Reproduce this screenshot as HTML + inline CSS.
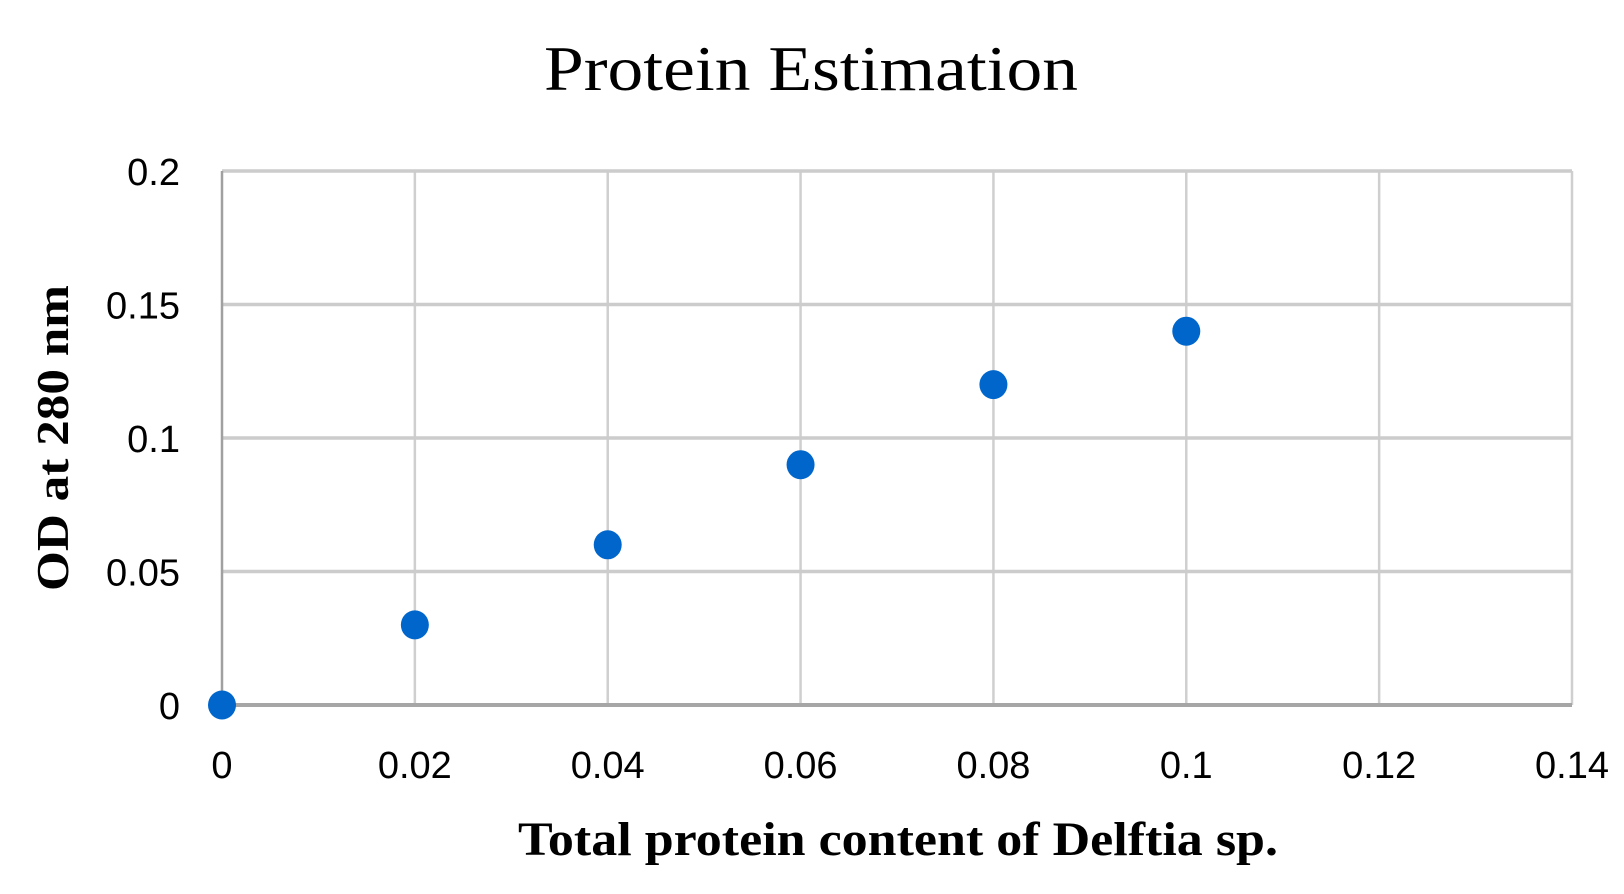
<!DOCTYPE html>
<html><head><meta charset="utf-8"><style>body{margin:0;background:#fff}svg{display:block}</style></head>
<body>
<svg id="chart" width="1624" height="894" viewBox="0 0 1624 894" xmlns="http://www.w3.org/2000/svg">
<rect width="1624" height="894" fill="#fff"/>
<text x="811" y="90" text-anchor="middle" font-family="Liberation Serif, serif" font-size="64" textLength="534" lengthAdjust="spacingAndGlyphs">Protein Estimation</text>
<g id="grid"></g>
<g id="ticks"></g>
<g id="points"></g>
<text x="898" y="855" text-anchor="middle" font-family="Liberation Serif, serif" font-weight="bold" font-size="48" textLength="760" lengthAdjust="spacingAndGlyphs">Total protein content of Delftia sp.</text>
<text transform="translate(68,438) rotate(-90)" text-anchor="middle" font-family="Liberation Serif, serif" font-weight="bold" font-size="46" textLength="306" lengthAdjust="spacingAndGlyphs">OD at 280 nm</text>
</svg>
<script>
const xValues = [0, 0.02, 0.04, 0.06, 0.08, 0.1];
const yValues = [0, 0.03, 0.06, 0.09, 0.12, 0.14];
const xTicks = [0, 0.02, 0.04, 0.06, 0.08, 0.1, 0.12, 0.14];
const yTicks = [0, 0.05, 0.1, 0.15, 0.2];
const xTickLabels = ["0","0.02","0.04","0.06","0.08","0.1","0.12","0.14"];
const yTickLabels = ["0","0.05","0.1","0.15","0.2"];

const L=222,R=1572,T=171,B=705,xMax=0.14,yMax=0.2;
const sx=v=>L+(v/xMax)*(R-L);
const sy=v=>B-(v/yMax)*(B-T);
const NS="http://www.w3.org/2000/svg";
function mk(tag,attrs,parent){const e=document.createElementNS(NS,tag);for(const k in attrs)e.setAttribute(k,attrs[k]);parent.appendChild(e);return e;}
const grid=document.getElementById('grid'),ticks=document.getElementById('ticks'),pts=document.getElementById('points');
xTicks.forEach((v,i)=>{
  if(i>0){const l=mk('line',{x1:sx(v),x2:sx(v),y1:T,y2:B,stroke:'#cfcfcf','stroke-width':2.5},grid);
  
  }
  const t=mk('text',{x:sx(v),y:778,'text-anchor':'middle','font-family':'Liberation Sans, sans-serif','font-size':38},ticks);
  t.textContent=xTickLabels[i];
  
  
});
yTicks.forEach((v,i)=>{
  if(i>0){const l=mk('line',{x1:L,x2:R,y1:sy(v),y2:sy(v),stroke:'#cccccc','stroke-width':3.5},grid);
  
  }
  const t=mk('text',{x:180,y:sy(v)+14,'text-anchor':'end','font-family':'Liberation Sans, sans-serif','font-size':38},ticks);
  t.textContent=yTickLabels[i];
  
  
});
const ya=mk('line',{x1:L,x2:L,y1:T,y2:B,stroke:'#a0a0a0','stroke-width':2.5},grid);


const xa=mk('line',{x1:L,x2:R,y1:B,y2:B,stroke:'#a6a6a6','stroke-width':4},grid);


xValues.forEach((x,i)=>{
  const c=mk('ellipse',{cx:sx(x),cy:sy(yValues[i]),rx:14,ry:14.5,fill:'#0066cc'},pts);
  
  
});
</script>
</body></html>
